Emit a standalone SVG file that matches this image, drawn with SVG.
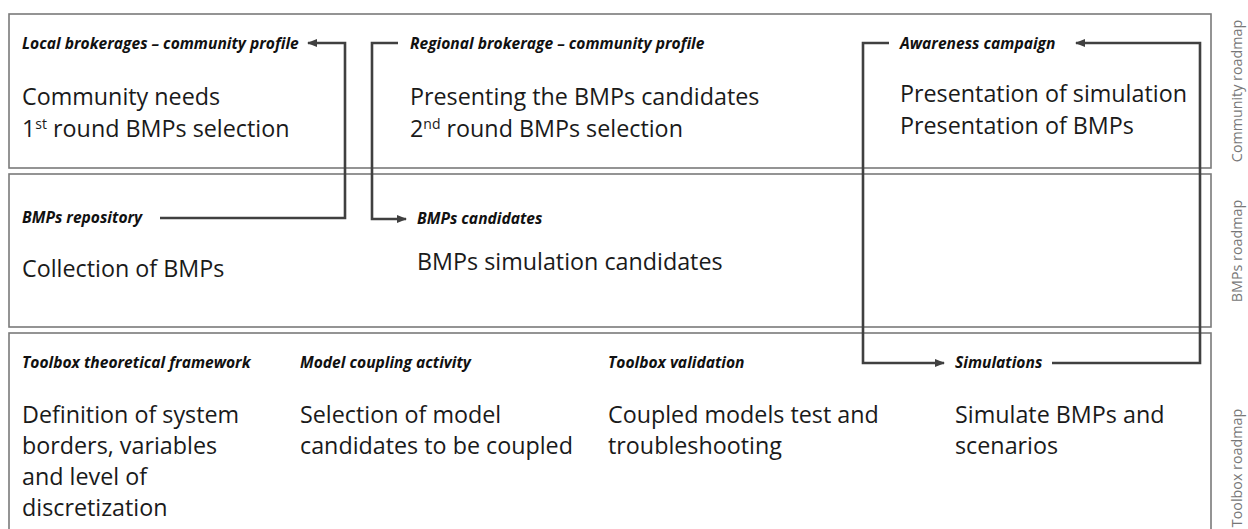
<svg xmlns="http://www.w3.org/2000/svg" width="1248" height="529" viewBox="0 0 1248 529">
<defs>
<marker id="ah" viewBox="0 0 10 10" refX="9" refY="5" markerWidth="4" markerHeight="4" orient="auto-start-reverse" markerUnits="strokeWidth">
<path d="M0,1 L10,5 L0,9 Z" fill="#404040"/>
</marker>
<style>
.band{fill:#ffffff;stroke:#7a7a7a;stroke-width:1.6}
.hd{font-family:"Open Sans","Liberation Sans",sans-serif;font-size:15.6px;font-weight:bold;font-style:italic;fill:#111}
.bt{font-family:"Open Sans","Liberation Sans",sans-serif;font-size:23.3px;fill:#1a1a1a}
.sup{font-size:14px}
.side{font-family:"Open Sans","Liberation Sans",sans-serif;font-size:14.3px;fill:#777}
.con{fill:none;stroke:#404040;stroke-width:2.6}
</style>
</defs>
<rect width="1248" height="529" fill="#ffffff"/>

<g id="band-community">
<rect class="band" x="9" y="14" width="1202" height="154"/>
<text class="side" transform="translate(1242,91) rotate(-90)" text-anchor="middle">Community roadmap</text>
</g>
<g id="band-bmps">
<rect class="band" x="9" y="174" width="1202" height="153"/>
<text class="side" transform="translate(1242,251) rotate(-90)" text-anchor="middle">BMPs roadmap</text>
</g>
<g id="band-toolbox">
<rect class="band" x="9" y="333" width="1202" height="220"/>
<text class="side" transform="translate(1242,468) rotate(-90)" text-anchor="middle">Toolbox roadmap</text>
</g>

<g id="node-local">
<text class="hd" x="22" y="49">Local brokerages – community profile</text>
<text class="bt" x="22" y="105">Community needs</text>
<text class="bt" x="22" y="137">1<tspan class="sup" dy="-8">st</tspan><tspan dy="8"> round BMPs selection</tspan></text>
</g>
<g id="node-regional">
<text class="hd" x="410" y="49">Regional brokerage – community profile</text>
<text class="bt" x="410" y="105">Presenting the BMPs candidates</text>
<text class="bt" x="410" y="137">2<tspan class="sup" dy="-8">nd</tspan><tspan dy="8"> round BMPs selection</tspan></text>
</g>
<g id="node-awareness">
<text class="hd" x="900" y="49">Awareness campaign</text>
<text class="bt" x="900" y="102">Presentation of simulation</text>
<text class="bt" x="900" y="134">Presentation of BMPs</text>
</g>
<g id="node-repository">
<text class="hd" x="22" y="223">BMPs repository</text>
<text class="bt" x="22" y="277">Collection of BMPs</text>
</g>
<g id="node-candidates">
<text class="hd" x="417" y="224">BMPs candidates</text>
<text class="bt" x="417" y="270">BMPs simulation candidates</text>
</g>
<g id="node-framework">
<text class="hd" x="22" y="368">Toolbox theoretical framework</text>
<text class="bt" x="22" y="423">Definition of system</text>
<text class="bt" x="22" y="454">borders, variables</text>
<text class="bt" x="22" y="485">and level of</text>
<text class="bt" x="22" y="516">discretization</text>
</g>
<g id="node-coupling">
<text class="hd" x="300" y="368">Model coupling activity</text>
<text class="bt" x="300" y="423">Selection of model</text>
<text class="bt" x="300" y="454">candidates to be coupled</text>
</g>
<g id="node-validation">
<text class="hd" x="608" y="368">Toolbox validation</text>
<text class="bt" x="608" y="423">Coupled models test and</text>
<text class="bt" x="608" y="454">troubleshooting</text>
</g>
<g id="node-simulations">
<text class="hd" x="955" y="368">Simulations</text>
<text class="bt" x="955" y="423">Simulate BMPs and</text>
<text class="bt" x="955" y="454">scenarios</text>
</g>

<g id="connectors">
<path class="con" d="M160,218 H345 V43 H308" marker-end="url(#ah)"/>
<path class="con" d="M398,43 H372 V219 H406" marker-end="url(#ah)"/>
<path class="con" d="M889,43 H863 V363 H944" marker-end="url(#ah)"/>
<path class="con" d="M1052,363 H1200 V43 H1076" marker-end="url(#ah)"/>
</g>
</svg>
